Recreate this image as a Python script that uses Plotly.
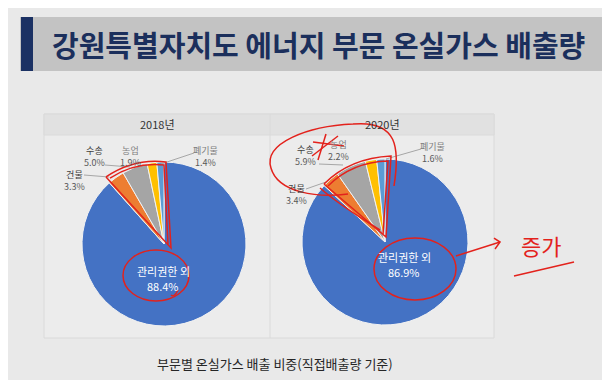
import plotly.graph_objects as go

# ---- data ----
categories = ["관리권한 외", "건물", "수송", "농업", "폐기물"]
values_2018 = [88.4, 3.3, 5.0, 1.9, 1.4]
values_2020 = [86.9, 3.4, 5.9, 2.2, 1.6]
years = ["2018년", "2020년"]
slice_colors = ["#4472C4", "#ED7D31", "#A5A5A5", "#FFC000", "#5B9BD5"]
title_text = "강원특별자치도 에너지 부문 온실가스 배출량"
caption_text = "부문별 온실가스 배출 비중(직접배출량 기준)"
note_text = "증가"

W, H = 610, 380
FONT = "Noto Sans CJK KR"
RED = "#e3221c"


def px(x):
    return x / W


def py(y):
    return 1 - y / H


def dom(cx, cy, r):
    return dict(x=[px(cx - r), px(cx + r)], y=[py(cy + r), py(cy - r)])


def pct(v):
    return f"{v:.1f}%"


fig = go.Figure()

pies = [(values_2018, 156, 236, 82), (values_2020, 377, 234, 83)]
for vals, cx, cy, r in pies:
    fig.add_trace(go.Pie(
        labels=categories, values=vals, sort=False, direction="clockwise",
        rotation=0, textinfo="none", hoverinfo="label+percent",
        marker=dict(colors=slice_colors, line=dict(color="#f2f2f2", width=1)),
        domain=dom(cx, cy, r), showlegend=False,
    ))

shapes = []
annotations = []

# title bar
shapes.append(dict(type="rect", xref="paper", yref="paper", x0=px(12), x1=px(610), y0=py(63), y1=py(9),
                   fillcolor="#c3c3c3", line=dict(width=0), layer="below"))
shapes.append(dict(type="rect", xref="paper", yref="paper", x0=px(13), x1=px(25), y0=py(63), y1=py(9),
                   fillcolor="#1b3163", line=dict(width=0), layer="below"))
annotations.append(dict(x=px(310), y=py(36), xref="paper", yref="paper", text="<b>" + title_text + "</b>",
                        showarrow=False, font=dict(family=FONT, size=29, color="#1b2f5c"),
                        xanchor="center", yanchor="middle"))

# chart box
shapes.append(dict(type="rect", xref="paper", yref="paper", x0=px(36), x1=px(486), y0=py(330), y1=py(106),
                   fillcolor="#ececec", line=dict(color="#dadada", width=1), layer="below"))
shapes.append(dict(type="rect", xref="paper", yref="paper", x0=px(36), x1=px(486), y0=py(127), y1=py(106),
                   fillcolor="#e1e1e1", line=dict(color="#dadada", width=1), layer="below"))
shapes.append(dict(type="line", xref="paper", yref="paper", x0=px(262), x1=px(262), y0=py(330), y1=py(106),
                   line=dict(color="#dadada", width=1), layer="below"))

for yr, xc in zip(years, [149, 374]):
    annotations.append(dict(x=px(xc), y=py(116), xref="paper", yref="paper", text=yr, showarrow=False,
                            font=dict(family=FONT, size=11, color="#333333"), xanchor="center", yanchor="middle"))


# slice labels (two lines in one text)
def lab(x, y, name, val, color="#404040", size=9):
    txt = f"<span style='color:{color}'>{name}</span><br><span style='color:#595959'>{val}</span>"
    annotations.append(dict(x=px(x), y=py(y), xref="paper", yref="paper", text=txt, showarrow=False,
                            font=dict(family=FONT, size=size, color=color), xanchor="center", yanchor="middle"))


def big(x, y, name, val):
    for t, yy in ((name, y), (val, y + 15)):
        annotations.append(dict(x=px(x), y=py(yy), xref="paper", yref="paper", text=t, showarrow=False,
                                font=dict(family=FONT, size=11, color="white"),
                                xanchor="center", yanchor="middle"))


def leader(x0, y0, x1, y1):
    shapes.append(dict(type="line", xref="paper", yref="paper", x0=px(x0), y0=py(y0), x1=px(x1), y1=py(y1),
                       line=dict(color="#a6a6a6", width=1)))


# 2018
lab(86, 148, categories[2], pct(values_2018[2]))
lab(122, 148, categories[3], pct(values_2018[3]), color="#7f7f7f")
lab(66, 172, categories[1], pct(values_2018[1]))
lab(197, 148, categories[4], pct(values_2018[4]), color="#7f7f7f")
leader(97, 157, 122, 159)
leader(76, 167, 101, 169)
leader(186, 145, 153, 156)
big(155, 263, categories[0], pct(values_2018[0]))

# 2020
lab(297, 147, categories[2], pct(values_2020[2]))
lab(330, 143, categories[3], pct(values_2020[3]), color="#7f7f7f")
lab(288, 186, categories[1], pct(values_2020[1]))
lab(424, 144, categories[4], pct(values_2020[4]), color="#7f7f7f")
leader(311, 156, 335, 157)
leader(298, 181, 318, 174)
leader(413, 141, 378, 151)
big(396, 249, categories[0], pct(values_2020[0]))

# caption
annotations.append(dict(x=px(267), y=py(355), xref="paper", yref="paper", text=caption_text, showarrow=False,
                        font=dict(family=FONT, size=13, color="#262626"), xanchor="center", yanchor="middle"))


# ---- red hand annotations ----
def path(pts_str):
    toks = pts_str.split()
    out = []
    i = 0
    while i < len(toks):
        t = toks[i]
        if t.isalpha():
            out.append(t)
            i += 1
        else:
            x = float(toks[i]); y = float(toks[i + 1])
            out.append(f"{px(x):.4f},{py(y):.4f}")
            i += 2
    return " ".join(out)


def red(d, w=1.5):
    shapes.append(dict(type="path", xref="paper", yref="paper", path=path(d),
                       line=dict(color=RED, width=w)))


# 2018 ellipse + wedge outline
shapes.append(dict(type="circle", xref="paper", yref="paper", x0=px(115), x1=px(181), y0=py(293), y1=py(242),
                   line=dict(color=RED, width=1.5)))
red("M 98 169 Q 126 150 158 154 L 163 240 L 98 169")
red("M 102 170 Q 127 154 156 157 L 160 236")
red("M 170 282 Q 166 290 163 287")

# 2020 ellipse
shapes.append(dict(type="circle", xref="paper", yref="paper", x0=px(366), x1=px(448), y0=py(292), y1=py(230),
                   line=dict(color=RED, width=1.5)))
# wedge outline
red("M 316 176 Q 342 150 383 148 L 378 229 L 316 176")
red("M 320 178 Q 344 154 380 153 L 375 226")
red("M 312 180 Q 330 196 372 222")
# big loop around labels
red("M 386 178 C 392 140 390 112 345 116 C 300 118 255 135 263 160 C 270 185 310 190 340 186")
# cross over label
red("M 305 134 L 336 138")
red("M 318 126 L 310 152")
red("M 304 148 L 330 128")
# arrow to note
red("M 448 248 L 492 234")
red("M 486 230 L 492 234 L 487 241")
# underline
red("M 506 268 L 566 254")
annotations.append(dict(x=px(533), y=py(237), xref="paper", yref="paper", text=note_text, showarrow=False,
                        font=dict(family=FONT, size=22, color=RED), xanchor="center", yanchor="middle"))

fig.update_layout(
    width=W, height=H, margin=dict(l=0, r=0, t=0, b=0),
    paper_bgcolor="#e9e9e9", plot_bgcolor="#e9e9e9",
    shapes=shapes, annotations=annotations,
)

fig.write_html("out.html")
